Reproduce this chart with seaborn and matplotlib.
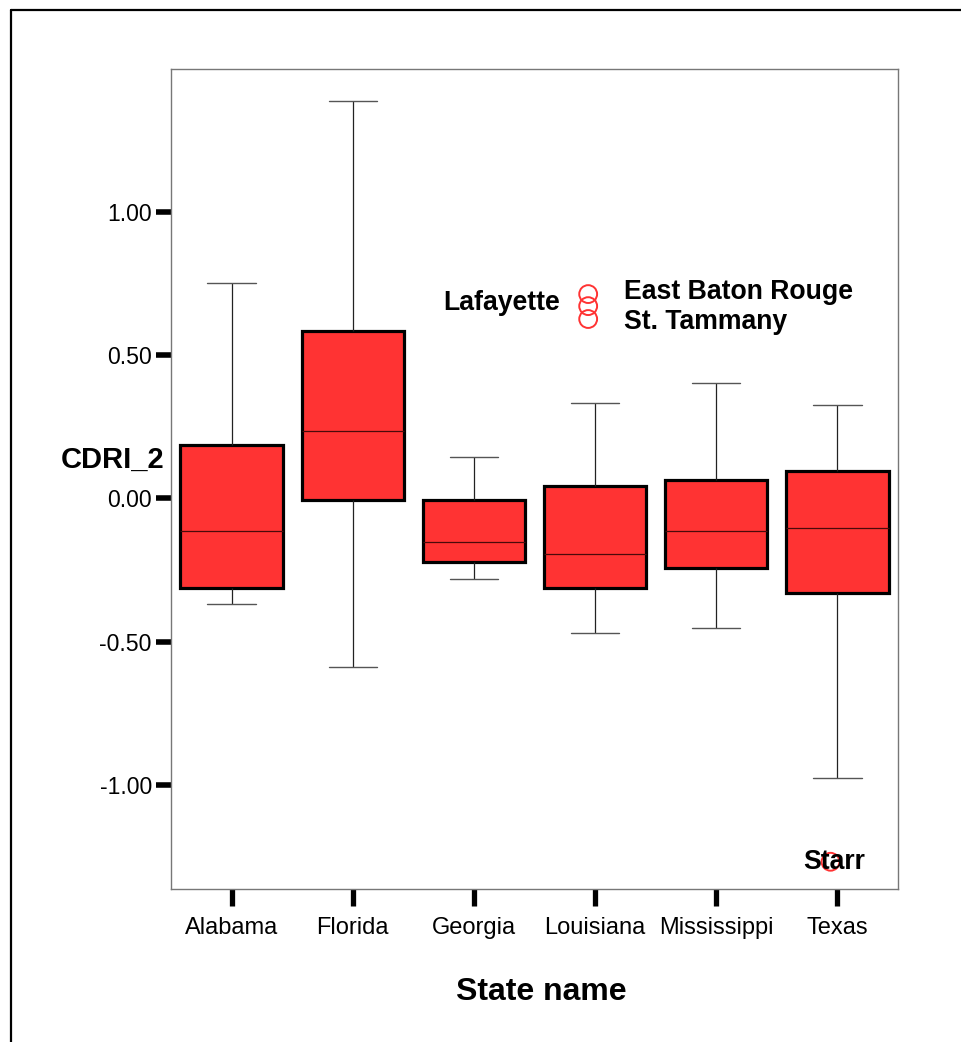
import numpy as np
import pandas as pd
import matplotlib
matplotlib.use("Agg")
import matplotlib.pyplot as plt
from matplotlib.lines import Line2D
import seaborn as sns

# ---------------- data ----------------
states = ["Alabama", "Florida", "Georgia", "Louisiana", "Mississippi", "Texas"]
whisker_low = [-0.369, -0.589, -0.283, -0.470, -0.452, -0.975]
q1 = [-0.313, -0.005, -0.224, -0.314, -0.245, -0.332]
median = [-0.114, 0.234, -0.154, -0.194, -0.114, -0.105]
q3 = [0.186, 0.583, -0.005, 0.044, 0.065, 0.095]
whisker_high = [0.751, 1.386, 0.145, 0.333, 0.403, 0.324]

outlier_names = ["Lafayette", "East Baton Rouge", "St. Tammany", "Starr"]
outlier_states = ["Louisiana", "Louisiana", "Louisiana", "Texas"]
outlier_values = [0.712, 0.670, 0.625, -1.268]

y_ticks = [-1.0, -0.5, 0.0, 0.5, 1.0]
y_tick_labels = ["-1.00", "-0.50", "0.00", "0.50", "1.00"]

# long table: five summary points per state reproduce the box statistics
rows = []
for i, s in enumerate(states):
    for v in (whisker_low[i], q1[i], median[i], q3[i], whisker_high[i]):
        rows.append({"State name": s, "CDRI_2": v})
df = pd.DataFrame(rows)

# ---------------- style ----------------
sns.set_style("white")
plt.rcParams["font.family"] = ["Liberation Sans", "DejaVu Sans"]
plt.rcParams["axes.unicode_minus"] = False
plt.rcParams["text.color"] = "black"
plt.rcParams["axes.labelcolor"] = "black"
plt.rcParams["xtick.labelcolor"] = "black"
plt.rcParams["ytick.labelcolor"] = "black"

W, H = 962, 1042
fig = plt.figure(figsize=(W / 100, H / 100), dpi=100)
ax = fig.add_axes([171 / W, 1 - 889 / H, 727 / W, 819.7 / H])

box_red = "#FF3333"
sns.boxplot(
    data=df, x="State name", y="CDRI_2", order=states, ax=ax,
    color=box_red, saturation=1, width=0.845, whis=(0, 100),
    linecolor="black", linewidth=0.8, showfliers=False,
    boxprops={"linewidth": 2.3, "edgecolor": "black"},
    whiskerprops={"linewidth": 0.9, "color": "#222222"},
    capprops={"linewidth": 1.0, "color": "#555555"},
    medianprops={"linewidth": 0.9, "color": "#4a0a0a"},
    capwidths=0.4,
)

# outliers (SPSS draws them slightly left of the category centre)
x_shift = -0.057
ox = [states.index(s) + x_shift for s in outlier_states]
ax.scatter(ox, outlier_values, s=165, facecolors="none",
           edgecolors="#FF3333", linewidths=1.4, zorder=5)

label_offsets = {
    "Lafayette": ((-20.2, -11.5), "right"),
    "East Baton Rouge": ((25.9, 4.8), "left"),
    "St. Tammany": ((25.9, -7.4), "left"),
    "Starr": ((2.5, -5.5), "center"),
}
for name, x, y in zip(outlier_names, ox, outlier_values):
    (dx, dy), ha = label_offsets[name]
    ax.annotate(name, (x, y), xytext=(dx, dy), textcoords="offset points",
                ha=ha, va="baseline", fontsize=19.2, fontweight="bold",
                color="black", zorder=6)

# ---------------- axes ----------------
ax.set_xlim(-0.5, 5.5)
ax.set_ylim(-1.363, 1.496)
ax.set_yticks(y_ticks)
ax.set_yticklabels(y_tick_labels)
for sp in ax.spines.values():
    sp.set_visible(True)
    sp.set_color("#777777")
    sp.set_linewidth(1.0)

ax.tick_params(axis="y", direction="out", length=10.8, width=4.0,
               color="black", labelsize=16.6, pad=3, left=True)
ax.tick_params(axis="x", direction="out", length=12.2, width=3.8,
               color="black", labelsize=17, pad=8, bottom=True)

ax.set_ylabel("CDRI_2", rotation=0, fontsize=21, fontweight="bold",
              ha="right", va="center")
ax.yaxis.set_label_coords(-0.0096, 0.523)
ax.set_xlabel("State name", fontsize=23, fontweight="bold", va="center")
ax.xaxis.set_label_coords(0.510, -0.1257)

# outer frame of the chart (left and top edges visible)
fx = 10.5 / W
fy = 1 - 9.5 / H
fig.add_artist(Line2D([fx, fx], [0, fy], transform=fig.transFigure,
                      color="black", linewidth=1.6))
fig.add_artist(Line2D([fx, 1], [fy, fy], transform=fig.transFigure,
                      color="black", linewidth=1.6))

fig.savefig("out.png", dpi=100)
